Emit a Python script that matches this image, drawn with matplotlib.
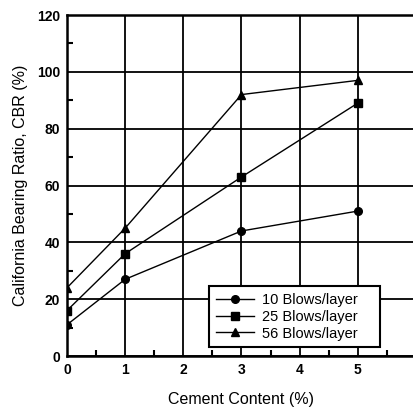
import matplotlib
matplotlib.use("Agg")
import matplotlib.pyplot as plt
from matplotlib.ticker import MultipleLocator

plt.rcParams['font.family'] = ['Liberation Sans', 'DejaVu Sans']

cement = [0, 1, 3, 5]
cbr_10 = [11, 27, 44, 51]
cbr_25 = [16, 36, 63, 89]
cbr_56 = [24, 45, 92, 97]
labels = ['10 Blows/layer', '25 Blows/layer', '56 Blows/layer']

fig = plt.figure(figsize=(4.14, 4.11), dpi=100)
ax = fig.add_axes([67 / 414, 55 / 411, 349 / 414, 341 / 411])

ax.plot(cement, cbr_10, 'k-', marker='o', ms=5.5, lw=1, label=labels[0])
ax.plot(cement, cbr_25, 'k-', marker='s', ms=5.5, lw=1, label=labels[1])
ax.plot(cement, cbr_56, 'k-', marker='^', ms=6, lw=1, label=labels[2])

ax.set_xlim(0, 6)
ax.set_ylim(0, 120)
ax.xaxis.set_major_locator(MultipleLocator(1))
ax.xaxis.set_minor_locator(MultipleLocator(0.5))
ax.yaxis.set_major_locator(MultipleLocator(20))
ax.yaxis.set_minor_locator(MultipleLocator(10))
ax.tick_params(which='both', direction='in', width=1.5)
ax.tick_params(which='major', length=0, pad=5, labelsize=10)
ax.tick_params(which='minor', length=4)
for lab in ax.get_xticklabels() + ax.get_yticklabels():
    lab.set_fontweight('bold')
ax.grid(True, which='major', color='black', lw=1.3)
for s in ax.spines.values():
    s.set_linewidth(1.8)

ax.set_xlabel('Cement Content (%)', fontsize=11.5, labelpad=11)
ax.set_ylabel('California Bearing Ratio, CBR (%)', fontsize=11.5, labelpad=6)

leg = ax.legend(loc='lower left', bbox_to_anchor=(0.407, 0.026, 0.49, 0.2),
                mode='expand', borderaxespad=0, fontsize=10.5,
                frameon=True, fancybox=False, edgecolor='black', framealpha=1,
                handlelength=2.6, borderpad=0.45, labelspacing=0.2,
                handletextpad=0.6)
leg.get_frame().set_linewidth(1.5)

fig.savefig('out.png', dpi=100)
